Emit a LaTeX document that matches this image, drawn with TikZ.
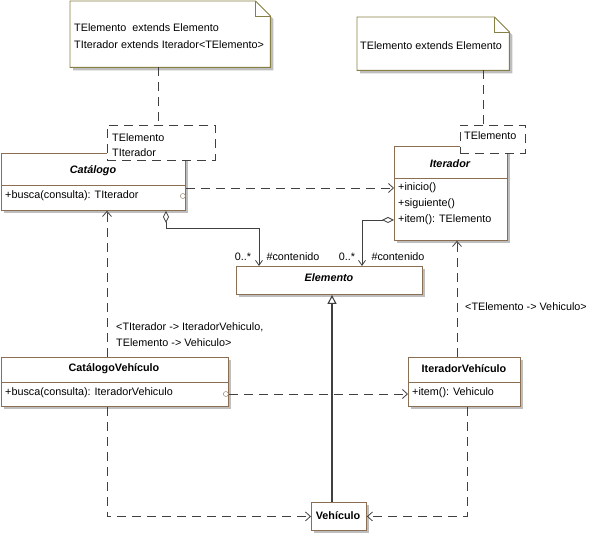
\documentclass[tikz,border=0pt]{standalone}
\usepackage{fontspec}
\setmainfont{Liberation Sans}
\usetikzlibrary{calc, arrows.meta, shadows}
\tikzstyle{diagram} = [x = 1pt, y = -1pt, every node/.style={font=\fontsize{10.8}{12}\selectfont}]
\definecolor{classColor}{RGB}{140,110,82}
\definecolor{noteColor}{RGB}{135,127,68}
\definecolor{linkColor}{RGB}{64,64,64}
\definecolor{shadowColor}{RGB}{190,190,190}
\tikzstyle{classBox} = [draw=classColor, fill=white, anchor=north west, inner sep=0, line width=.9pt, drop shadow={shadow xshift=3pt, shadow yshift=-3pt, fill=shadowColor, opacity=1}]
\tikzstyle{classLine} = [classColor, line width=.9pt]
\tikzstyle{templateBox} = [draw=linkColor, fill=white, line width=.8pt, dash pattern=on 9pt off 6pt, anchor=north west, inner sep=0]
\tikzstyle{noteArea} = [anchor=north west, inner sep=0]
\tikzstyle{noteStyle} = [draw=noteColor, fill=white, line width=.9pt]
\tikzstyle{classTitle} = [font=\fontsize{10.8}{12}\selectfont\bfseries]
\tikzstyle{abstractTitle} = [font=\fontsize{10.8}{12}\selectfont\bfseries\itshape]
\tikzstyle{memberText} = [anchor=west, inner sep=0]
\tikzstyle{dependLink} = [linkColor, line width=.8pt, dash pattern=on 9pt off 6pt, -{Straight Barb[length=5pt, width=9pt]}]
\tikzstyle{noteLink} = [linkColor, line width=.8pt, dash pattern=on 9pt off 6pt]
\tikzstyle{aggregLink} = [linkColor, line width=.8pt, {Diamond[open, length=12pt, width=6pt]}-{Straight Barb[length=5pt, width=7pt]}]
\tikzstyle{generalLink} = [linkColor, line width=1.1pt, -{Triangle[open, length=9pt, width=9pt]}]
\tikzstyle{portCircle} = [classColor, fill=white]
\newcommand{\classFrame}[6]{\node [classBox, minimum width=#4pt, minimum height=#5pt] (#1) at (#2,#3) {};
  \draw [classLine] ($(#1.north west)+(0,#6)$) -- ($(#1.north east)+(0,#6)$);}
\newcommand{\noteShape}[1]{
  \fill [shadowColor] ($(#1.north west)+(3,3)$) -- ($(#1.north east)+(-12,3)$) -- ($(#1.north east)+(3,18)$) -- ($(#1.south east)+(3,3)$) -- ($(#1.south west)+(3,3)$) -- cycle;
  \filldraw [noteStyle] (#1.north west) -- ($(#1.north east)+(-15,0)$) -- ($(#1.north east)+(0,15)$) -- (#1.south east) -- (#1.south west) -- cycle;
  \draw [noteStyle, fill=none] ($(#1.north east)+(-15,0)$) -- ($(#1.north east)+(-15,15)$) -- ($(#1.north east)+(0,15)$);}

\begin{document}
\begin{tikzpicture}[diagram]
  \useasboundingbox (0,0) rectangle (590,534);

  % notes
  \node [noteArea, minimum width=200pt, minimum height=66pt] (noteCat) at (70,1) {};
  \noteShape{noteCat}
  \node [memberText] (noteCatA) at (74,28) {TElemento\ \ extends\ Elemento};
  \node [memberText] (noteCatB) at (74,45) {TIterador extends\ Iterador<TElemento>};
  \node [noteArea, minimum width=152pt, minimum height=53pt] (noteIt) at (357,17) {};
  \noteShape{noteIt}
  \node [memberText] (noteItA) at (360,46) {TElemento extends Elemento};

  % classes
  \classFrame{catalogo}{1}{153}{184}{57}{32}
  \node [abstractTitle] (catalogoName) at (93,171) {Catálogo};
  \node [memberText] (catalogoOp) at (5,196) {+busca(consulta): TIterador};

  \classFrame{iterador}{394}{146}{113}{94}{32}
  \node [abstractTitle] (iteradorName) at (450,164) {Iterador};
  \node [memberText] (iteradorOpA) at (398,188) {+inicio()};
  \node [memberText] (iteradorOpB) at (398,204) {+siguiente()};
  \node [memberText] (iteradorOpC) at (398,220) {+item(): TElemento};

  \classFrame{elemento}{236}{266}{186}{28}{0}
  \node [abstractTitle] (elementoName) at (329,278) {Elemento};

  \classFrame{catalogoVeh}{1}{357}{227}{49}{25}
  \node [classTitle] (catalogoVehName) at (114,369) {CatálogoVehículo};
  \node [memberText] (catalogoVehOp) at (5,393) {+busca(consulta): IteradorVehiculo};

  \classFrame{iteradorVeh}{408}{357}{112}{49}{25}
  \node [classTitle] (iteradorVehName) at (464,369) {IteradorVehículo};
  \node [memberText] (iteradorVehOp) at (412,393) {+item(): Vehiculo};

  \classFrame{vehiculo}{311}{502}{55}{28}{0}
  \node [classTitle] (vehiculoName) at (338,516) {Vehículo};

  % template parameters
  \node [templateBox, minimum width=108pt, minimum height=35pt] (catalogoTpl) at (107,125) {};
  \node [memberText] (catalogoTplA) at (112,138) {TElemento};
  \node [memberText] (catalogoTplB) at (112,153) {TIterador};
  \node [templateBox, minimum width=65pt, minimum height=28pt] (iteradorTpl) at (460,125) {};
  \node [memberText] (iteradorTplA) at (464,136) {TElemento};

  % links
  \draw [noteLink] ($(noteCat.south west)+(88,0)$) -- ($(catalogoTpl.north west)+(51,0)$);
  \draw [noteLink] ($(noteIt.south west)+(126,0)$) -- ($(iteradorTpl.north west)+(23,0)$);
  \draw [dependLink] ($(catalogo.north east)+(0,35)$) -- ($(iterador.north west)+(0,42)$);
  \draw [aggregLink] ($(catalogo.south west)+(165,0)$) -- ++(0,18) -| ($(elemento.north west)+(23,0)$);
  \draw [aggregLink] ($(iterador.north west)+(0,74)$) -| ($(elemento.north west)+(126,0)$);
  \draw [generalLink] ($(vehiculo.north west)+(21,0)$) -- ($(elemento.south west)+(96,0)$);
  \draw [dependLink] ($(catalogoVeh.north east)+(0,37)$) -- ($(iteradorVeh.north west)+(0,37)$);
  \draw [dependLink] ($(catalogoVeh.north west)+(106,0)$) -- ($(catalogo.south west)+(106,0)$);
  \draw [dependLink] ($(catalogoVeh.south west)+(106,0)$) |- (vehiculo.west);
  \draw [dependLink] ($(iteradorVeh.north west)+(49,0)$) -- ($(iterador.south west)+(63,0)$);
  \draw [dependLink] ($(iteradorVeh.south west)+(59,0)$) |- (vehiculo.east);
  \filldraw [portCircle] ($(catalogo.north east)+(-3,43)$) circle (2.5);
  \filldraw [portCircle] ($(catalogoVeh.north east)+(-3,37)$) circle (2.5);

  % labels
  \node (multA) at (243,257) {0..*};
  \node (roleA) at (293,257) {\#contenido};
  \node (multB) at (347,257) {0..*};
  \node (roleB) at (398,257) {\#contenido};
  \node [memberText] (bindCatA) at (116,327) {<TIterador -> IteradorVehiculo,};
  \node [memberText] (bindCatB) at (116,343) {TElemento -> Vehiculo>};
  \node [memberText] (bindIt) at (465,307) {<TElemento -> Vehiculo>};
\end{tikzpicture}
\end{document}
